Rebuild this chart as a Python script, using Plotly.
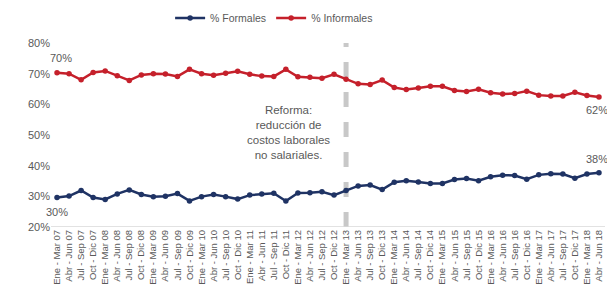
import plotly.graph_objects as go

periodos = ["Ene - Mar", "Abr - Jun", "Jul - Sep", "Oct - Dic"]
categorias = []
for yy in range(7, 19):
    for p in periodos:
        categorias.append(f"{p} {yy:02d}")
categorias = categorias[:46]

informales = [70.3, 70.0, 68.0, 70.4, 70.9, 69.3, 67.8, 69.6, 70.0, 69.9,
              69.1, 71.4, 70.0, 69.5, 70.1, 70.8, 69.8, 69.2, 69.1, 71.4,
              69.0, 68.8, 68.5, 69.8, 68.2, 66.7, 66.5, 67.9, 65.5, 64.8,
              65.3, 65.9, 65.9, 64.5, 64.2, 64.9, 63.8, 63.4, 63.5, 64.3,
              63.0, 62.7, 62.7, 63.9, 62.9, 62.4]
formales = [29.6, 30.1, 31.9, 29.6, 29.0, 30.8, 32.1, 30.6, 29.9, 30.0,
            30.9, 28.5, 29.9, 30.6, 29.9, 29.1, 30.4, 30.8, 31.0, 28.5,
            31.1, 31.2, 31.5, 30.4, 31.9, 33.4, 33.7, 32.2, 34.6, 35.1,
            34.7, 34.2, 34.2, 35.5, 35.8, 35.1, 36.4, 36.9, 36.8, 35.6,
            37.0, 37.4, 37.3, 35.9, 37.3, 37.7]
reforma_idx = 24
reforma_texto = "Reforma:<br>reducción de<br>costos laborales<br>no salariales."

AZUL = "#1f3364"
ROJO = "#c5202b"
GRIS = "#595959"
FONT = "Liberation Sans"

fig = go.Figure()
fig.add_trace(go.Scatter(x=categorias, y=formales, name="% Formales",
                         mode="lines+markers",
                         line=dict(color=AZUL, width=2.5),
                         marker=dict(color=AZUL, size=5.5)))
fig.add_trace(go.Scatter(x=categorias, y=informales, name="% Informales",
                         mode="lines+markers",
                         line=dict(color=ROJO, width=2.5),
                         marker=dict(color=ROJO, size=5.5)))

# vertical dashed reform line
fig.add_shape(type="line", xref="x", yref="paper",
              x0=categorias[reforma_idx], x1=categorias[reforma_idx],
              y0=0, y1=1.0,
              line=dict(color="#c8c8c8", width=5, dash="dash"),
              layer="below")

# baseline
fig.add_shape(type="line", xref="paper", yref="y", x0=0, x1=1, y0=20, y1=20,
              line=dict(color="#d9d9d9", width=1.5), layer="below")

annots = [
    dict(x=categorias[0], y=informales[0], text=f"{round(informales[0])}%", yshift=15, xshift=4),
    dict(x=categorias[-1], y=informales[-1], text=f"{round(informales[-1])}%", yshift=-13, xshift=-2),
    dict(x=categorias[0], y=formales[0], text=f"{round(formales[0])}%", yshift=-14, xshift=0),
    dict(x=categorias[-1], y=formales[-1], text=f"{round(formales[-1])}%", yshift=14, xshift=-2),
]
for a in annots:
    fig.add_annotation(xref="x", yref="y", showarrow=False,
                       font=dict(family=FONT, size=11, color=GRIS), **a)

fig.add_annotation(xref="x", yref="y", x=19.2, y=50.9, text=reforma_texto,
                   showarrow=False, align="center",
                   font=dict(family=FONT, size=11.5, color=GRIS))

# page body has an 8px margin: compensate so the chart lands where the reference has it
fig.update_layout(
    width=607, height=291,
    margin=dict(l=43, r=10, t=35, b=72, autoexpand=False),
    paper_bgcolor="white", plot_bgcolor="white",
    font=dict(family=FONT, size=11, color=GRIS),
    showlegend=True,
    legend=dict(orientation="h", x=0.215, y=1.136, xanchor="left", yanchor="middle",
                font=dict(family=FONT, size=10.5, color=GRIS),
                itemwidth=30, tracegroupgap=0, itemsizing="trace"),
    xaxis=dict(type="category", tickangle=-90, showgrid=False, zeroline=False,
               showline=False, ticks="", tickfont=dict(size=9.5, color=GRIS),
               automargin=False,
               range=[-0.5, len(categorias) - 0.5]),
    yaxis=dict(range=[20, 80], dtick=10, ticksuffix="%", showgrid=False,
               zeroline=False, showline=False, ticks="", automargin=False,
               tickfont=dict(size=11, color=GRIS)),
)

fig.write_html("out.html")
